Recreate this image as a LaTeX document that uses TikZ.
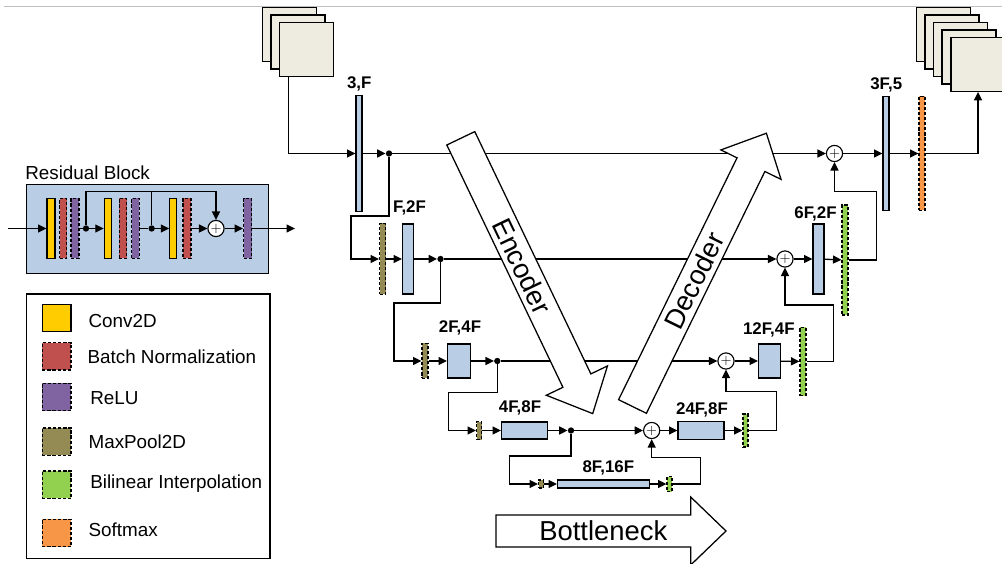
\documentclass[tikz,border=0pt]{standalone}
\usepackage{fontspec}
\setmainfont{Liberation Sans}
\usepackage{tikz}
\usetikzlibrary{arrows.meta,calc}
\definecolor{convblue}{RGB}{185,205,229}
\definecolor{convyellow}{RGB}{255,204,0}
\definecolor{bnred}{RGB}{192,80,77}
\definecolor{relupurple}{RGB}{128,100,162}
\definecolor{poololive}{RGB}{148,138,84}
\definecolor{interpgreen}{RGB}{146,208,80}
\definecolor{smorange}{RGB}{247,150,70}
\definecolor{imgbeige}{RGB}{238,236,225}

\begin{document}
\begin{tikzpicture}[x=0.025cm,y=-0.025cm,
    >={Triangle[length=6pt,width=5.7pt]},
    wire/.style={line width=0.95pt},
    blk/.style 2 args={draw, inner sep=0pt, line width=0.8pt, minimum width=#1*0.025cm, minimum height=#2*0.025cm},
    dsh/.style={dash pattern=on 2.2pt off 1.4pt},
    ublk/.style 2 args={blk={#1}{#2}, fill=convblue},
    conv2d/.style 2 args={blk={#1}{#2}, fill=convyellow},
    bnorm/.style 2 args={blk={#1}{#2}, fill=bnred, dsh},
    relu/.style 2 args={blk={#1}{#2}, fill=relupurple, dsh},
    mpool/.style 2 args={blk={#1}{#2}, fill=poololive, dsh},
    interp/.style 2 args={blk={#1}{#2}, fill=interpgreen, dsh},
    smax/.style 2 args={blk={#1}{#2}, fill=smorange, dsh},
    img/.style={draw, fill=imgbeige, line width=0.9pt, inner sep=0pt, minimum size=1.35cm},
    jdot/.style={circle, fill, inner sep=0pt, minimum size=4.5pt},
    sumnode/.style={circle, draw, fill=white, line width=0.8pt, inner sep=0pt, minimum size=11.5pt},
    lbl/.style={font=\bfseries\fontsize{12}{12}\selectfont},
    legtxt/.style={anchor=west, inner sep=0pt, font=\fontsize{13.4}{14}\selectfont},
    bigtxt/.style={font=\fontsize{19.5}{20}\selectfont},
    bigarrow/.style={draw, fill=white, line width=0.9pt, line join=miter}]
        \clip (0,0) rectangle (1002,564);
        \draw[black!25, line width=0.7pt] (4,6) -- (1002,6);
        %Residual block
        \node[legtxt] (restitle) at (25,172.3) {Residual Block};
        \node[blk={241.6}{89}, fill=convblue] (resbox) at (147.5,228.8) {};
        \node[conv2d={8}{60}] (ry1) at (51,228.5) {};
        \node[bnorm={7}{60}] (rb1) at (63,228.5) {};
        \node[relu={8}{60}] (rr1) at (75,228.5) {};
        \node[jdot] (ra) at (86,228.5) {};
        \node[conv2d={7.5}{60}] (ry2) at (108,228.5) {};
        \node[bnorm={7.5}{60}] (rb2) at (123,228.5) {};
        \node[relu={7.5}{60}] (rr2) at (135.5,228.5) {};
        \node[jdot] (rc) at (151.7,228.5) {};
        \node[conv2d={7}{60}] (ry3) at (173.3,228.5) {};
        \node[bnorm={8}{60}] (rb3) at (187,228.5) {};
        \node[sumnode] (rs) at (216,228.5) {$+$};
        \node[relu={8}{60}] (rr4) at (247.5,228.5) {};
        \coordinate (resin) at (8,228.5);
        \coordinate (resout) at (295,228.5);
        \draw[wire,->] (resin) -- (ry1);
        \draw[wire] (rr1) -- (ra);
        \draw[wire,->] (ra) -- (ry2);
        \draw[wire] (rr2) -- (rc);
        \draw[wire,->] (rc) -- (ry3);
        \draw[wire,->] (rb3) -- (rs);
        \draw[wire,->] (rs) -- (rr4);
        \draw[wire,->] (rr4) -- (resout);
        \draw[wire,->] (ra) |- (216,191.7) -- (rs);
        \draw[wire] (rc) -- (rc |- 0,191.7);
        %Legend
        \node[blk={243.3}{264.3}, fill=white] (legbox) at (148.3,426.2) {};
        \node[conv2d={28.7}{27.5}] (k1) at (56.7,318) {};
        \node[bnorm={28.7}{27.5}] (k2) at (56.7,356.3) {};
        \node[relu={28.7}{27.5}] (k3) at (56.7,397) {};
        \node[mpool={28.7}{27.5}] (k4) at (56.7,441.7) {};
        \node[interp={28.7}{27.5}] (k5) at (56.7,484.7) {};
        \node[smax={28.7}{27.5}] (k6) at (56.7,533) {};
        \node[legtxt] (t1) at (88.3,320.7) {Conv2D};
        \node[legtxt] (t2) at (87.3,356.7) {Batch Normalization};
        \node[legtxt] (t3) at (90,398.3) {ReLU};
        \node[legtxt] (t4) at (88.3,441.7) {MaxPool2D};
        \node[legtxt] (t5) at (90,484) {Bilinear Interpolation};
        \node[legtxt] (t6) at (88.3,530) {Softmax};
        %Input and output images
        \node[img] (in1) at (289.7,34.3) {};
        \node[img] (in2) at (298,42) {};
        \node[img] (in3) at (306.3,49.7) {};
        \node[img] (o1) at (943.7,34.3) {};
        \node[img] (o2) at (952,42) {};
        \node[img] (o3) at (960.5,49.7) {};
        \node[img] (o4) at (969,57) {};
        \node[img] (o5) at (978,64.3) {};
        %Encoder side
        \node[ublk={6}{116}] (c1) at (359,153.5) {};
        \node[lbl] (l1) at (359.3,84.3) {3,F};
        \node[jdot] (d1) at (389,153.5) {};
        \node[mpool={6}{71}] (m2) at (382.5,259) {};
        \node[ublk={11}{70}] (c2) at (408,259) {};
        \node[lbl] (l2) at (409.5,207.5) {F,2F};
        \node[jdot] (d2) at (440.5,259) {};
        \node[mpool={6}{35}] (m3) at (425,361) {};
        \node[ublk={23}{34}] (c3) at (459,361) {};
        \node[lbl] (l3) at (460,327.5) {2F,4F};
        \node[jdot] (d3) at (497.3,361) {};
        \node[mpool={5}{18}] (m4) at (479,430.5) {};
        \node[ublk={46}{17}] (c4) at (524.5,430.5) {};
        \node[lbl] (l4) at (520,407.5) {4F,8F};
        \node[jdot] (d4) at (571,430.5) {};
        \node[mpool={5}{8}] (m5) at (541,484) {};
        \node[ublk={92}{8}] (c5) at (603.5,484) {};
        \node[lbl] (l5) at (608.3,467.5) {8F,16F};
        \node[interp={5}{15}] (u5) at (669.5,484) {};
        %Decoder side
        \node[sumnode] (p4) at (651.7,430.5) {$+$};
        \node[ublk={46}{18}] (c6) at (701,430.5) {};
        \node[lbl] (l6) at (702,409.7) {24F,8F};
        \node[interp={5}{33}] (u4) at (745.5,430.5) {};
        \node[sumnode] (p3) at (726,361) {$+$};
        \node[ublk={22}{34}] (c7) at (769.5,361) {};
        \node[lbl] (l7) at (768.8,330) {12F,4F};
        \node[interp={6}{68}] (u3) at (803,361.5) {};
        \node[sumnode] (p2) at (785,259) {$+$};
        \node[ublk={11}{70}] (c8) at (818.5,259) {};
        \node[lbl] (l8) at (815.5,214) {6F,2F};
        \node[interp={6}{110}] (u2) at (845,260) {};
        \node[sumnode] (p1) at (834.5,153.5) {$+$};
        \node[ublk={6}{114}] (c9) at (886,153.5) {};
        \node[lbl] (l9) at (886.3,85.3) {3F,5};
        \node[smax={6}{114}] (s1) at (922,153.5) {};
        %Connections
        \draw[wire,->] ($(in3.south west)+(10,0)$) |- (c1);
        \draw[wire,->] (c1) -- (d1);
        \draw[wire,->] (d1) |- (351,216) |- (m2);
        \draw[wire,->] (m2) -- (c2);
        \draw[wire,->] (c2) -- (d2);
        \draw[wire,->] (d2) |- (394,303) |- (m3);
        \draw[wire,->] (m3) -- (c3);
        \draw[wire,->] (c3) -- (d3);
        \draw[wire,->] (d3) |- (448.3,392.3) |- (m4);
        \draw[wire,->] (m4) -- (c4);
        \draw[wire,->] (c4) -- (d4);
        \draw[wire,->] (d4) |- (509.3,456) |- (m5);
        \draw[wire,->] (m5) -- (c5);
        \draw[wire,->] (c5) -- (u5);
        \draw[wire,->] (u5) -| (700.7,457.7) -| (p4);
        \draw[wire,->] (d4) -- (p4);
        \draw[wire,->] (d3) -- (p3);
        \draw[wire,->] (d2) -- (p2);
        \draw[wire,->] (d1) -- (p1);
        \draw[wire,->] (p4) -- (c6);
        \draw[wire,->] (c6) -- (u4);
        \draw[wire,->] (u4) -| (776.7,391.7) -| (p3);
        \draw[wire,->] (p3) -- (c7);
        \draw[wire,->] (c7) -- (u3);
        \draw[wire,->] (u3) -| (833.3,305) -| (p2);
        \draw[wire,->] (p2) -- (c8);
        \draw[wire,->] (c8) -- (u2);
        \draw[wire,->] (u2) -| (876.7,191.7) -| (p1);
        \draw[wire,->] (p1) -- (c9);
        \draw[wire,->] (c9) -- (s1);
        \draw[wire,->] (s1) -| (o5);
        %Encoder arrow
        \begin{scope}[shift={(460.8,138.3)}, rotate=-64.4]
        \draw[bigarrow] (0,-15.5) -- (268.7,-15.5) -- (268.7,-33.9) -- (305.3,0) -- (268.7,33.9) -- (268.7,15.5) -- (0,15.5) -- cycle;
        \node[bigtxt, rotate=-64.4] (enc) at (142,0) {Encoder};
        \end{scope}
        %Decoder arrow
        \begin{scope}[shift={(632.5,406.5)}, rotate=63.9]
        \draw[bigarrow] (0,-15.5) -- (269.3,-15.5) -- (269.3,-33.5) -- (304.3,0) -- (269.3,33.5) -- (269.3,15.5) -- (0,15.5) -- cycle;
        \node[bigtxt, rotate=63.9] (dec) at (140,0) {Decoder};
        \end{scope}
        %Bottleneck arrow
        \begin{scope}[shift={(496,531)}]
        \draw[bigarrow] (0,-16) -- (194.7,-16) -- (194.7,-34) -- (230,0) -- (194.7,34) -- (194.7,16) -- (0,16) -- cycle;
        \node[bigtxt] (bot) at (107.3,0) {Bottleneck};
        \end{scope}
      \end{tikzpicture}
\end{document}
